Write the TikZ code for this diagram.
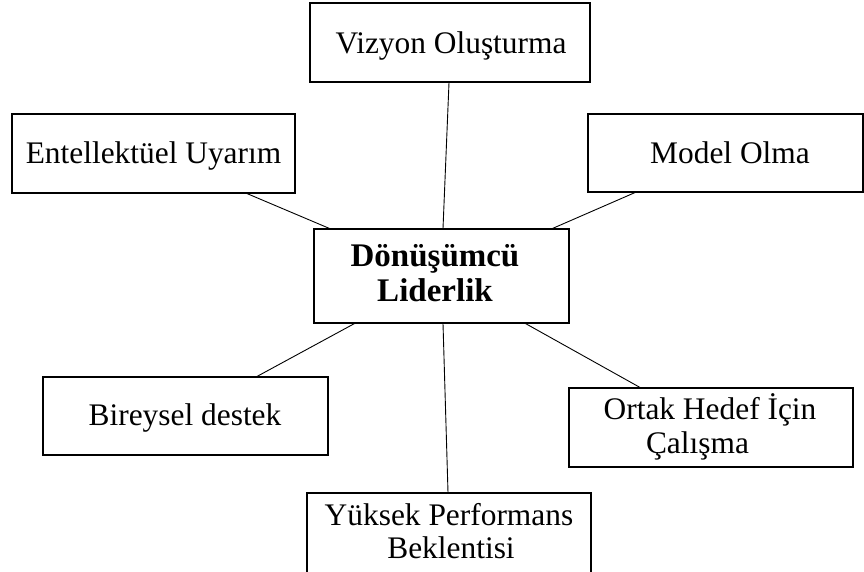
\documentclass[tikz,border=0pt]{standalone}
\usepackage{fontspec}
\setmainfont{Liberation Serif}
\begin{document}
\begin{tikzpicture}[x=1pt,y=-1pt,
  boxstyle/.style={draw=black,line width=1.1pt,rectangle,inner sep=0pt},
  txt/.style={anchor=base,inner sep=0pt,font=\fontsize{31.4}{35}\selectfont},
  btxt/.style={anchor=base,inner sep=0pt,font=\fontsize{33}{35}\selectfont\bfseries},
  conn/.style={draw=black,line width=0.9pt}]
\useasboundingbox (0,0) rectangle (864,571);
% boxes
\node[boxstyle,minimum width=280pt,minimum height=79pt] (viz) at (450,42.5) {};
\node[boxstyle,minimum width=283pt,minimum height=79pt] (ent) at (153.5,153.5) {};
\node[boxstyle,minimum width=275pt,minimum height=78pt] (mod) at (725.5,153) {};
\node[boxstyle,minimum width=255pt,minimum height=94pt] (cen) at (441.5,276) {};
\node[boxstyle,minimum width=285pt,minimum height=78pt] (bir) at (185.5,416) {};
\node[boxstyle,minimum width=284pt,minimum height=79pt] (ort) at (711,427.5) {};
\node[boxstyle,minimum width=284pt,minimum height=107pt] (yuk) at (449,546.5) {};
% texts
\node[txt] (tviz) at (451,53) {Vizyon Oluşturma};
\node[txt] (tent) at (153.5,163) {Entellektüel Uyarım};
\node[txt] (tmod) at (730,163) {Model Olma};
\node[btxt] (tcen1) at (435,266.7) {Dönüşümcü};
\node[btxt] (tcen2) at (435,301.7) {Liderlik};
\node[txt] (tbir) at (185,425) {Bireysel destek};
\node[txt] (tort1) at (710,419) {Ortak Hedef İçin};
\node[txt] (tort2) at (697.5,453) {Çalışma};
\node[txt] (tyuk1) at (449,525) {Yüksek Performans};
\node[txt] (tyuk2) at (451,558) {Beklentisi};
% connectors
\draw[conn] ([xshift=-1pt]viz.south) -- ([xshift=1.5pt]cen.north);
\draw[conn] ([xshift=93.5pt]ent.south) -- ([xshift=16pt]cen.north west);
\draw[conn] ([xshift=-90.5pt]mod.south) -- ([xshift=-17pt]cen.north east);
\draw[conn] ([xshift=71.5pt]bir.north) -- ([xshift=41pt]cen.south west);
\draw[conn] ([xshift=-1pt]yuk.north) -- ([xshift=1.5pt]cen.south);
\draw[conn] ([xshift=-71pt]ort.north) -- ([xshift=-44pt]cen.south east);
\end{tikzpicture}
\end{document}
